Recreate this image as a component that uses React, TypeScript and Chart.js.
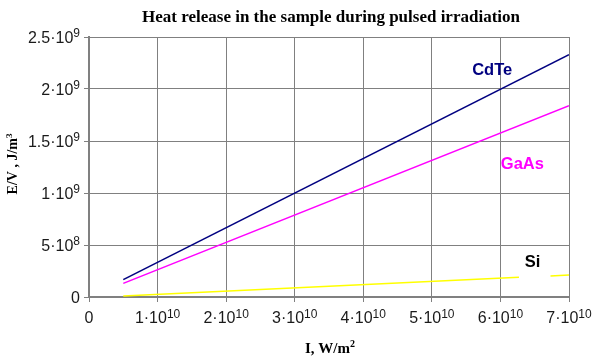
import React, { useEffect, useRef } from "react";
import { Chart, registerables } from "chart.js";

Chart.register(...registerables);

const titleText = "Heat release in the sample during pulsed irradiation";
const xTitleBase = "I, W/m";
const xTitleExp = "2";
const yTitleBase = "E/V , J/m";
const yTitleExp = "3";

// tick labels as [mantissa·10, exponent]
const xTickBases = ["0", "1·10", "2·10", "3·10", "4·10", "5·10", "6·10", "7·10"];
const xTickExps = ["", "10", "10", "10", "10", "10", "10", "10"];
const yTickBases = ["0", "5·10", "1·10", "1.5·10", "2·10", "2.5·10"];
const yTickExps = ["", "8", "9", "9", "9", "9"];

const seriesNames = ["CdTe", "GaAs", "Si"];
const lineX = [0.5e10, 7e10];
const cdteY = [0.167e9, 2.33e9];
const gaasY = [0.131e9, 1.84e9];
const siX = [0.5e10, 6.27e10, 6.5e10, 6.73e10, 7e10];
const siY = [0.01e9, 0.19e9, null, 0.202e9, 0.212e9];

const seriesColors = ["#000080", "#ff00ff", "#ffff00"];
const labelColors = ["#000080", "#ff00ff", "#000000"];
const labelPosX = [5.88e10, 6.32e10, 6.47e10];
const labelPosY = [2.18e9, 1.27e9, 0.33e9];

const SANS = "'Liberation Sans', Arial, sans-serif";
const SERIF = "'Liberation Serif', 'Times New Roman', serif";

function drawSup(
  ctx: CanvasRenderingContext2D,
  base: string,
  exp: string,
  x: number,
  y: number,
  baseFont: string,
  expFont: string,
  raise: number,
  align: "left" | "center" | "right"
) {
  ctx.font = baseFont;
  const wb = ctx.measureText(base).width;
  ctx.font = expFont;
  const we = exp ? ctx.measureText(exp).width : 0;
  const total = wb + we;
  let sx = x;
  if (align === "center") sx = x - total / 2;
  else if (align === "right") sx = x - total;
  ctx.textAlign = "left";
  ctx.textBaseline = "alphabetic";
  ctx.font = baseFont;
  ctx.fillText(base, sx, y);
  if (exp) {
    ctx.font = expFont;
    ctx.fillText(exp, sx + wb, y - raise);
  }
}

const annotate = {
  id: "annotate",
  afterDraw(chart: any) {
    const ctx = chart.ctx as CanvasRenderingContext2D;
    const xs = chart.scales.x;
    const ys = chart.scales.y;
    const area = chart.chartArea;
    ctx.save();
    // title
    ctx.fillStyle = "#000";
    ctx.textAlign = "center";
    ctx.textBaseline = "alphabetic";
    ctx.font = `bold 17px ${SERIF}`;
    ctx.fillText(titleText, (area.left + area.right) / 2 + 2, 22);

    // tick labels
    ctx.fillStyle = "#1a1a1a";
    const tb = `16px ${SANS}`;
    const te = `12px ${SANS}`;
    xs.ticks.forEach((t: any, i: number) => {
      const px = xs.getPixelForValue(t.value);
      drawSup(ctx, xTickBases[i], xTickExps[i], px, area.bottom + 26, tb, te, 5.5, "center");
    });
    ys.ticks.forEach((t: any, i: number) => {
      const py = ys.getPixelForValue(t.value);
      drawSup(ctx, yTickBases[i], yTickExps[i], area.left - 9, py + 5.7, tb, te, 5.5, "right");
    });

    // axis titles
    ctx.fillStyle = "#000";
    drawSup(ctx, xTitleBase, xTitleExp, (area.left + area.right) / 2 + 1, 353, `bold 15px ${SERIF}`, `bold 10px ${SERIF}`, 6, "center");
    ctx.save();
    ctx.translate(17, (area.top + area.bottom) / 2 - 3);
    ctx.rotate(-Math.PI / 2);
    drawSup(ctx, yTitleBase, yTitleExp, 0, 0, `bold 14px ${SERIF}`, `bold 9px ${SERIF}`, 5.5, "center");
    ctx.restore();

    // series labels
    ctx.textAlign = "center";
    ctx.textBaseline = "middle";
    ctx.font = `bold 16.5px ${SANS}`;
    seriesNames.forEach((n, i) => {
      ctx.fillStyle = labelColors[i];
      ctx.fillText(n, xs.getPixelForValue(labelPosX[i]), ys.getPixelForValue(labelPosY[i]));
    });
    ctx.restore();
  },
};

export default function App() {
  const ref = useRef<HTMLCanvasElement>(null);
  useEffect(() => {
    const toPts = (xa: number[], ya: (number | null)[]) => xa.map((x, i) => ({ x, y: ya[i] }));
    const chart = new Chart(ref.current!, {
      type: "line",
      data: {
        datasets: [
          { label: seriesNames[0], data: toPts(lineX, cdteY), borderColor: seriesColors[0], borderWidth: 1.6, pointRadius: 0, fill: false },
          { label: seriesNames[1], data: toPts(lineX, gaasY), borderColor: seriesColors[1], borderWidth: 1.6, pointRadius: 0, fill: false },
          { label: seriesNames[2], data: toPts(siX, siY), borderColor: seriesColors[2], borderWidth: 1.6, pointRadius: 0, fill: false, spanGaps: false },
        ] as any,
      },
      options: {
        animation: false,
        responsive: false,
        layout: { padding: { top: 37, right: 23, left: 0, bottom: 0 } },
        plugins: { legend: { display: false }, tooltip: { enabled: false }, title: { display: false } },
        scales: {
          x: {
            type: "linear",
            min: 0,
            max: 7e10,
            ticks: { stepSize: 1e10, display: false },
            grid: { color: "#808080", lineWidth: 1, tickLength: 5, drawTicks: true },
            border: { color: "#808080", width: 2 },
            title: { display: false },
            afterFit: (s: any) => {
              s.height = 59;
              s.paddingLeft = 0;
              s.paddingRight = 0;
            },
          },
          y: {
            type: "linear",
            min: 0,
            max: 2.5e9,
            ticks: { stepSize: 5e8, display: false },
            grid: { color: "#808080", lineWidth: 1, tickLength: 5, drawTicks: true },
            border: { color: "#808080", width: 2 },
            title: { display: false },
            afterFit: (s: any) => {
              s.width = 89;
              s.paddingTop = 0;
              s.paddingBottom = 0;
            },
          },
        },
      },
      plugins: [annotate],
    });
    return () => chart.destroy();
  }, []);
  return (
    <div style={{ position: "absolute", left: 0, top: 0, width: 592, height: 356, background: "#fff" }}>
      <canvas ref={ref} width={592} height={356} />
    </div>
  );
}
